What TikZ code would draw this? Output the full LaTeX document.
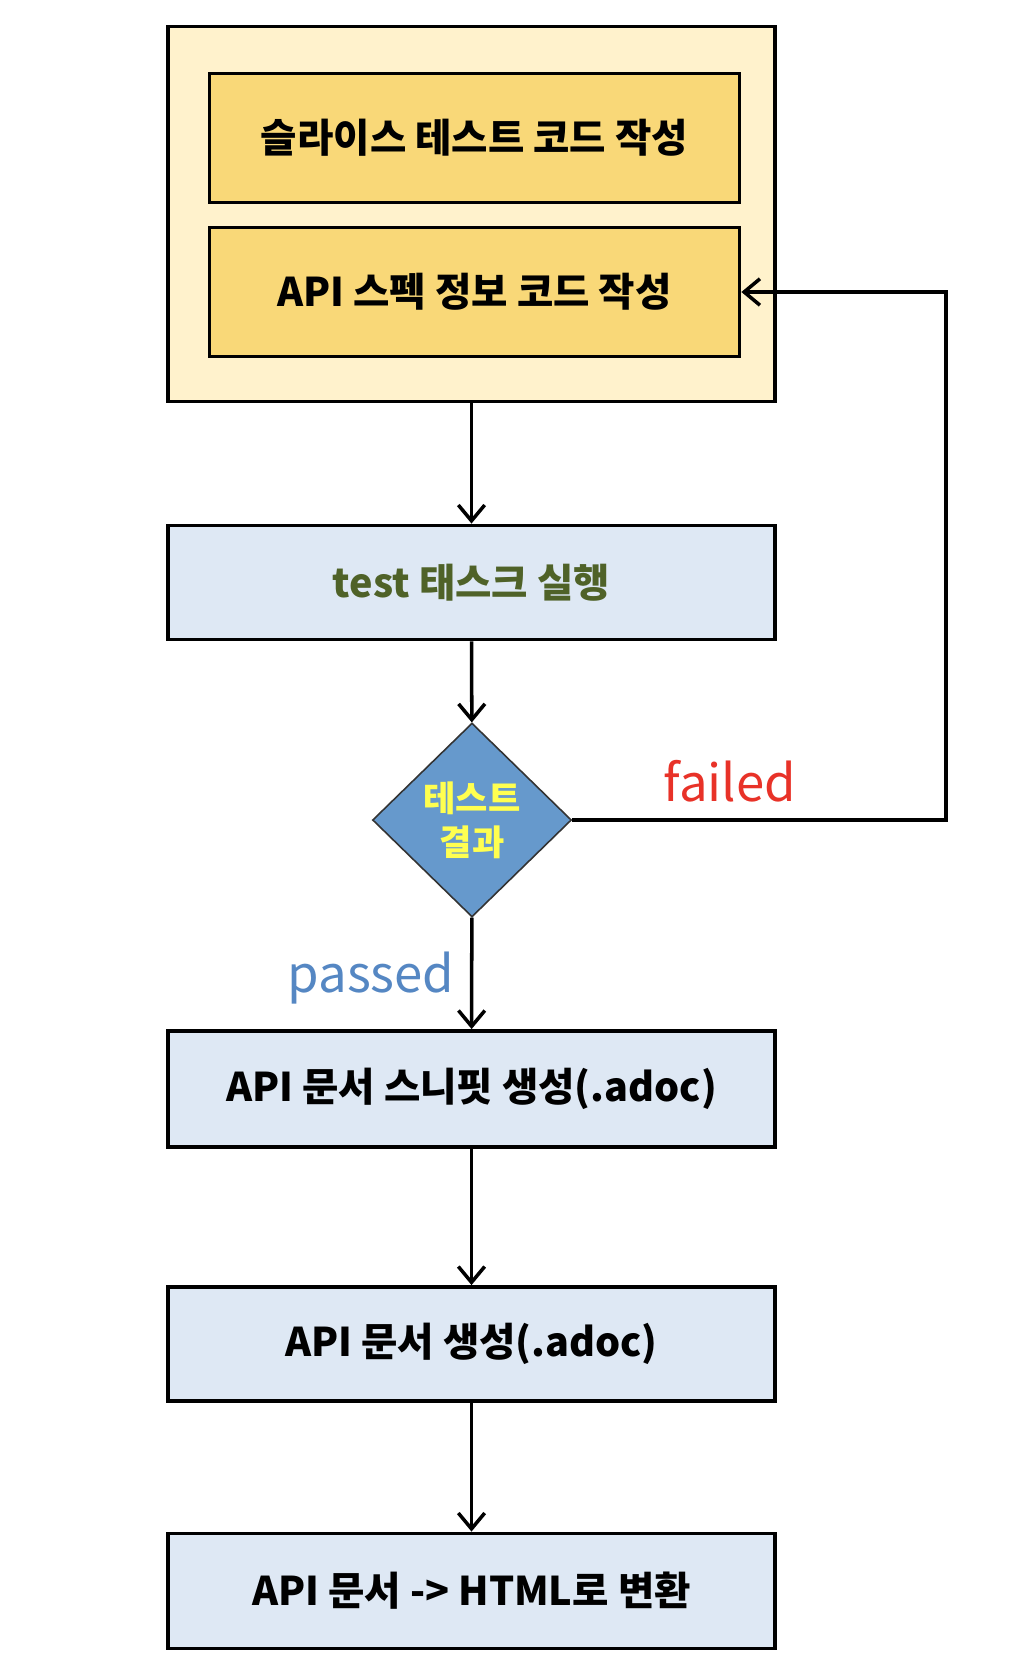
\documentclass[tikz,border=0pt]{standalone}
\usepackage{fontspec}
\setmainfont{Noto Sans CJK KR}
\usepackage{tikz}
\usetikzlibrary{shapes.geometric, positioning, arrows.meta, calc}
\def\boxfont{\fontsize{22.5pt}{26pt}\selectfont\bfseries}
\definecolor{group}{RGB}{255, 242, 204}
\definecolor{code}{RGB}{249, 216, 120}
\definecolor{task}{RGB}{222, 232, 244}
\definecolor{decision}{RGB}{102, 153, 204}
\definecolor{task-text}{RGB}{79, 98, 40}
\definecolor{decision-text}{RGB}{255, 255, 80}
\definecolor{failed}{RGB}{232, 50, 40}
\definecolor{passed}{RGB}{85, 135, 195}
\tikzstyle{arrow} = [black, -{Straight Barb[length=9pt, width=15pt]}, line width=2pt]
\tikzstyle{result} = [inner sep=0, font=\fontsize{29pt}{29pt}\selectfont]
\newcommand{\tikzboxnode}[3]{\node[
  draw=black, rectangle, line width=2.2pt, minimum width=#2, minimum height=#3, fill=#1, inner sep=0,
  font=\boxfont
]}
\newcommand{\tikzdecisionnode}[1]{\node[
  draw=black!80, diamond, line width=0.9pt, minimum width=3.98cm, minimum height=3.88cm, fill=#1, inner sep=0,
  align=center, text=decision-text, font=\fontsize{20pt}{25pt}\selectfont\bfseries
]}

\begin{document}
\begin{tikzpicture}[x=0.02cm, y=-0.02cm]
    \useasboundingbox (0, 0) rectangle (1014, 1674);

    % nodes
    \tikzboxnode{group}{12.15cm}{7.5cm}  at (471.5, 214)     (group)   {};
    \tikzboxnode{code}{10.6cm}{2.58cm}   at (474.5, 138)     (slice)   {슬라이스 테스트 코드 작성};
    \tikzboxnode{code}{10.6cm}{2.58cm}   at (474.5, 292)     (spec)    {API 스펙 정보 코드 작성};
    \tikzboxnode{task}{12.15cm}{2.28cm}  at (471.5, 582.5)   (test)    {\color{task-text}test 태스크 실행};
    \tikzdecisionnode{decision}          at (472, 820)       (result)  {테스트\\결과};
    \tikzboxnode{task}{12.15cm}{2.32cm}  at (471.5, 1089)    (snippet) {API 문서 스니핏 생성(.adoc)};
    \tikzboxnode{task}{12.15cm}{2.28cm}  at (471.5, 1344)    (doc)     {API 문서 생성(.adoc)};
    \tikzboxnode{task}{12.15cm}{2.3cm}   at (471.5, 1591)    (html)    {API 문서 -> HTML로 변환};
    \coordinate (loop) at (946, 820);

    % labels
    \node[result, text=failed] at (730, 781) (failed) {failed};
    \node[result, text=passed] at (371, 978) (passed) {passed};

    % arrows
    \draw[arrow]      (group)   -- (test);
    \draw[arrow]      (test)    -- (result);
    \draw[arrow]      (result)  -- (snippet);
    \draw[arrow]      (snippet) -- (doc);
    \draw[arrow]      (doc)     -- (html);
    \draw[arrow]      (result.east) -- (loop) |- (spec.east);
  \end{tikzpicture}
\end{document}
